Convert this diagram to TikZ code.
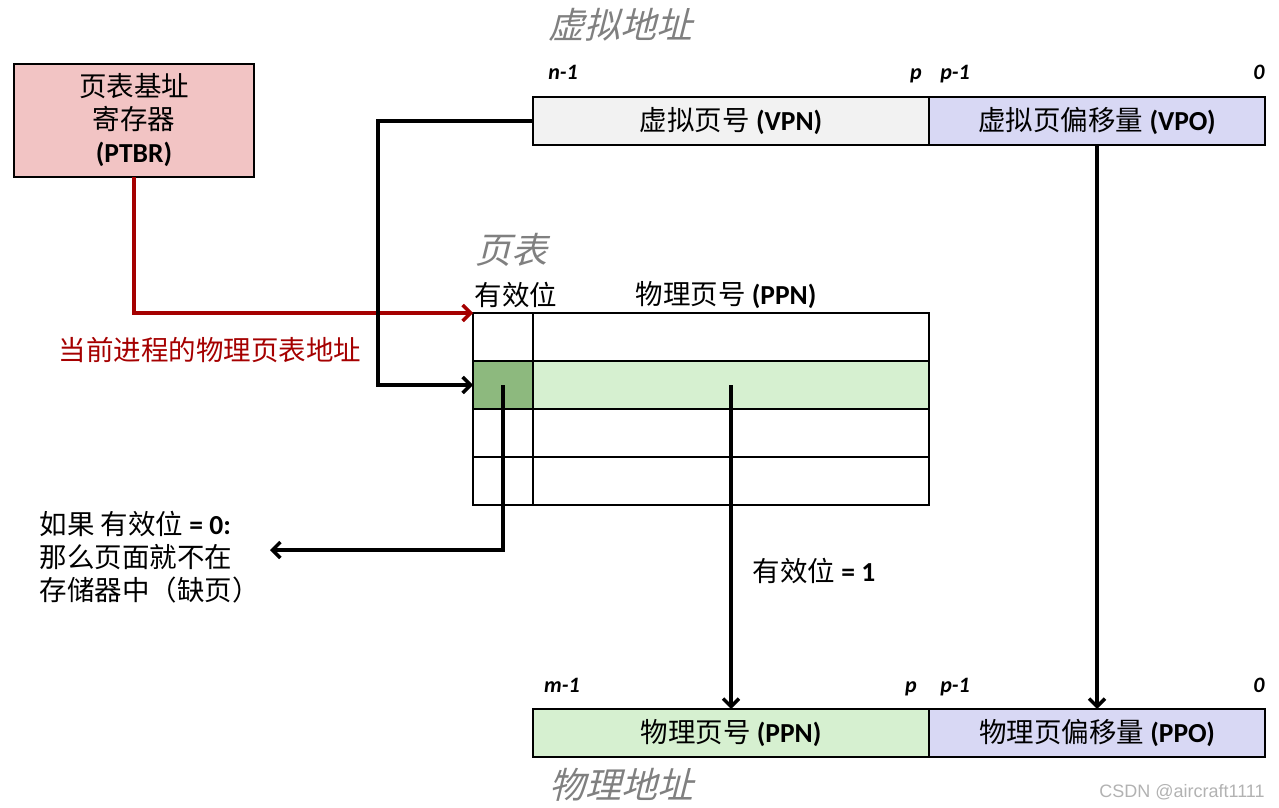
\documentclass[tikz,border=0pt]{standalone}
\usepackage{fontspec}
\setmainfont{Carlito}
\newfontfamily\cjk{Noto Sans CJK SC}
\newfontfamily\cjkslant[FakeSlant=0.25]{Noto Sans CJK SC}
\newfontfamily\wmfont{Liberation Sans}
\usepackage{tikz}
\usetikzlibrary{arrows.meta}
\definecolor{ptbrpink}{RGB}{242,196,196}
\definecolor{vpngray}{RGB}{242,242,242}
\definecolor{offlav}{RGB}{216,216,244}
\definecolor{ppngreen}{RGB}{214,240,208}
\definecolor{validgreen}{RGB}{141,185,126}
\definecolor{ptrred}{RGB}{165,0,0}
\definecolor{titlegray}{RGB}{128,128,128}
\newcommand\zh[1]{{\cjk #1}}

\begin{document}
\begin{tikzpicture}
  [x=1pt, y=-1pt,
  field/.style={draw, line width=2pt, inner sep=0pt, outer sep=0pt,
    minimum height=48pt, font=\fontsize{27.5}{30}\selectfont},
  cell/.style={draw, line width=2pt, inner sep=0pt, outer sep=0pt,
    minimum height=48pt},
  bits/.style={font=\fontsize{22}{24}\selectfont\bfseries\itshape,
    text height=1.5ex, text depth=0.3ex},
  lbl/.style={font=\fontsize{27.5}{33}\selectfont},
  title/.style={text=titlegray, font=\fontsize{36}{40}\selectfont\cjkslant},
  ptr/.style={line width=3.5pt, -{Straight Barb[length=8pt,width=16pt]}}]
  \useasboundingbox (0,0) rectangle (1279,808);

  \node[title] (vatitle) at (620,25) {虚拟地址};
  \node[bits] (vn) at (563,77) {n-1};
  \node[bits] (vp) at (916,77) {p};
  \node[bits] (vp1) at (955,77) {p-1};
  \node[bits] (v0) at (1259,77) {0};
  \node[field, fill=vpngray, minimum width=396pt] (vpn) at (731,121)
    {\zh{虚拟页号} \textbf{(VPN)}};
  \node[field, fill=offlav, minimum width=336pt] (vpo) at (1097,121)
    {\zh{虚拟页偏移量} \textbf{(VPO)}};

  \node[draw, line width=2pt, fill=ptbrpink, outer sep=0pt, minimum width=240pt,
    minimum height=113pt, align=center, lbl] (ptbr) at (134,120.5)
    {\zh{页表基址}\\ \zh{寄存器}\\ \textbf{(PTBR)}};

  \node[title] (pttitle) at (511,250) {页表};
  \node[lbl] (hvalid) at (516,295) {\zh{有效位}};
  \node[lbl] (hppn) at (726,295) {\zh{物理页号} \textbf{(PPN)}};
  \foreach \r/\y/\vf/\pf in {1/337/white/white, 2/385/validgreen/ppngreen,
    3/433/white/white, 4/481/white/white} {
    \node[cell, fill=\vf, minimum width=60pt] (v\r) at (503,\y) {};
    \node[cell, fill=\pf, minimum width=396pt] (p\r) at (731,\y) {};
  }

  \node[lbl, text=ptrred] (ptaddr) at (210,350) {\zh{当前进程的物理页表地址}};
  \node[lbl, anchor=west, align=left] (miss) at (36,557)
    {\zh{如果 有效位} \textbf{= 0:}\\ \zh{那么页面就不在}\\ \zh{存储器中（缺页）}};
  \coordinate (missend) at (270,550);
  \node[lbl] (hit) at (814,571) {\zh{有效位} \textbf{= 1}};

  \node[bits] (pm) at (562,690) {m-1};
  \node[bits] (pp) at (911,690) {p};
  \node[bits] (pp1) at (955,690) {p-1};
  \node[bits] (p0) at (1259,690) {0};
  \node[field, fill=ppngreen, minimum width=396pt] (ppn) at (731,733)
    {\zh{物理页号} \textbf{(PPN)}};
  \node[field, fill=offlav, minimum width=336pt] (ppo) at (1097,733)
    {\zh{物理页偏移量} \textbf{(PPO)}};
  \node[title] (patitle) at (621,785) {物理地址};
  \node[text=black!30, font=\fontsize{18}{20}\selectfont\wmfont] (wm) at (1182,792)
    {CSDN @aircraft1111};

  \draw[ptr, ptrred] (ptbr.south) |- (v1.north west);
  \draw[ptr] (vpn.west) -- ++(-155,0) |- (v2.west);
  \draw[ptr] (v2.center) |- (missend);
  \draw[ptr] (p2.center) -- (ppn.north);
  \draw[ptr] (vpo.south) -- (ppo.north);
\end{tikzpicture}
\end{document}
